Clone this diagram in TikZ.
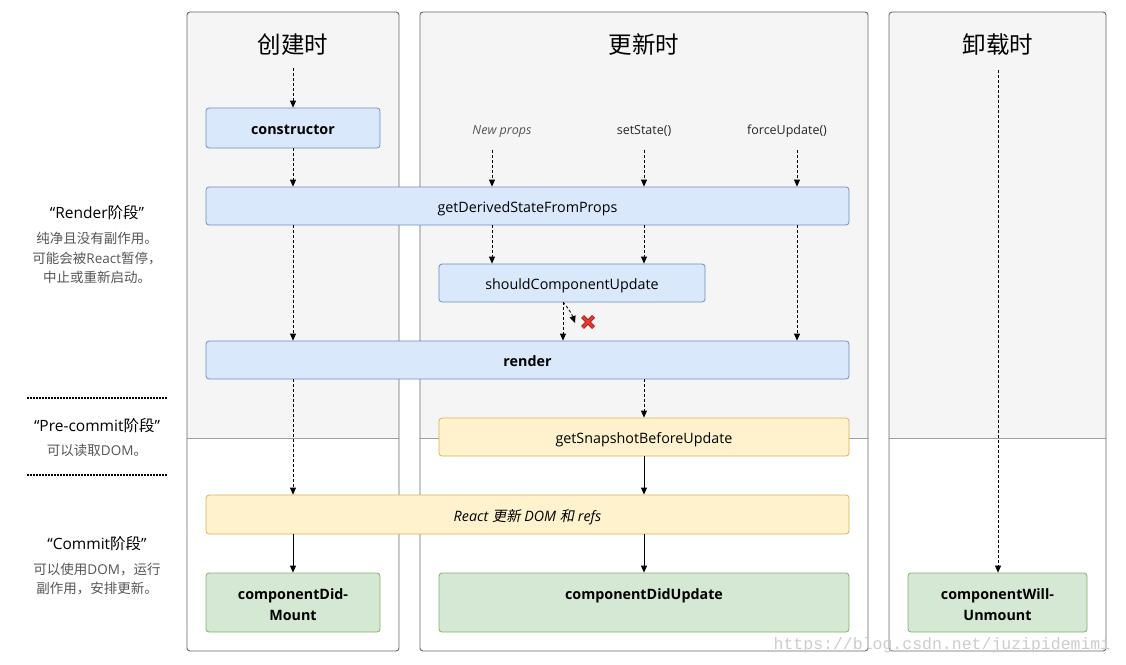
\documentclass[tikz,border=0pt]{standalone}
\usepackage{fontspec}
\setmainfont{Open Sans}
\newfontfamily\cjk{Noto Sans CJK SC}
\newfontfamily\cjkit[FakeSlant=0.2]{Noto Sans CJK SC}
\newfontfamily\wmfont{Liberation Mono}
\usetikzlibrary{arrows.meta}
\newcommand\twolines[2]{\raisebox{-6.5pt}[0pt][0pt]{\begin{tabular}{@{}c@{}}#1\\#2\end{tabular}}}
\definecolor{panelgray}{HTML}{F5F5F5}
\definecolor{panelborder}{HTML}{666666}
\definecolor{divider}{HTML}{A0A0A0}
\definecolor{bluefill}{HTML}{DAE8FC}
\definecolor{bluedraw}{HTML}{6C8EBF}
\definecolor{yelfill}{HTML}{FFF2CC}
\definecolor{yeldraw}{HTML}{D6B656}
\definecolor{grnfill}{HTML}{D5E8D4}
\definecolor{grndraw}{HTML}{82B366}
\definecolor{subgray}{HTML}{555555}
\definecolor{xred}{HTML}{E8392B}
\definecolor{xdark}{HTML}{9E1B10}
\tikzset{
  box/.style={draw, rounded corners=3pt, line width=0.8pt, inner sep=0pt, align=center,
    font=\fontsize{14.3}{21}\selectfont, text=black},
  oneline/.style={text height=14pt, text depth=1pt},
  bluebox/.style={box, oneline, fill=bluefill, draw=bluedraw},
  yelbox/.style={box, oneline, fill=yelfill, draw=yeldraw},
  grnbox/.style={box, fill=grnfill, draw=grndraw, font=\bfseries\fontsize{14.3}{21}\selectfont},
  boldtext/.style={font=\bfseries\fontsize{14.3}{21}\selectfont},
  darr/.style={-{Triangle[length=7pt,width=6pt]}, line width=0.8pt, dash pattern=on 3pt off 2pt},
  sarr/.style={-{Triangle[length=7pt,width=6pt]}, line width=0.9pt},
  head/.style={font=\cjk\fontsize{23.5}{26}\selectfont, text=black},
  trig/.style={font=\fontsize{12.5}{15}\selectfont, text=black!85, text height=10pt, text depth=3pt, inner sep=0pt},
  phase/.style={font=\fontsize{15.5}{18}\selectfont, text=black, inner sep=0pt},
  phasesub/.style={font=\fontsize{13.5}{19.7}\selectfont, text=subgray, inner sep=0pt, align=center},
  sep/.style={line width=1.8pt, dash pattern=on 1.8pt off 1.2pt},
  panelline/.style={draw=panelborder, line width=0.9pt, rounded corners=3pt}
}
\begin{document}
\begin{tikzpicture}[x=1pt,y=-1pt]
\useasboundingbox (0,0) rectangle (1126,664);
% panels
\foreach \a/\b in {187/399, 420/868, 889/1106}{
  \begin{scope}
    \clip[rounded corners=3pt] (\a,12) rectangle (\b,651);
    \fill[white] (\a,12) rectangle (\b,651);
    \fill[panelgray] (\a,12) rectangle (\b,438);
  \end{scope}
  \draw[divider, line width=0.9pt] (\a,438) -- (\b,438);
  \draw[panelline] (\a,12) rectangle (\b,651);
}
% headers
\node[head] (h1) at (293,45) {创建时};
\node[head] (h2) at (644,45) {更新时};
\node[head] (h3) at (998,45) {卸载时};
\coordinate (s1) at (293,68);
\coordinate (s3) at (998,70);
% triggers
\node[trig, font=\itshape\fontsize{12.5}{15}\selectfont, text=subgray] (np) at (502,130.5) {New props};
\node[trig] (ss) at (644,130.5) {setState()};
\node[trig] (fu) at (787,130.5) {forceUpdate()};
\coordinate (npb) at (492,150);
\coordinate (ssb) at (644,150);
\coordinate (fub) at (797,150);
% boxes
\node[bluebox, boldtext, minimum width=174pt, minimum height=40pt] (ctor) at (293,128) {constructor};
\node[bluebox, minimum width=643pt, minimum height=38pt] (gdsfp) at (527.5,206) {getDerivedStateFromProps};
\node[bluebox, minimum width=266pt, minimum height=38pt] (scu) at (572,283) {shouldComponentUpdate};
\node[bluebox, boldtext, minimum width=643pt, minimum height=38pt] (render) at (527.5,360) {render};
\node[yelbox, minimum width=410pt, minimum height=38pt] (gsbu) at (644,437) {getSnapshotBeforeUpdate};
\node[yelbox, minimum width=643pt, minimum height=39pt, font=\itshape\fontsize{14.3}{21}\selectfont] (rud) at (527.5,514.5) {React {\cjkit 更新} DOM {\cjkit 和} refs};
\node[grnbox, minimum width=174pt, minimum height=59pt] (cdm) at (293,602.5) {\twolines{componentDid-}{Mount}};
\node[grnbox, minimum width=410pt, minimum height=59pt] (cdu) at (644,602.5) {\twolines{componentDidUpdate}{~}};
\node[grnbox, minimum width=179pt, minimum height=59pt] (cwu) at (997.5,602.5) {\twolines{componentWill-}{Unmount}};
% column 1 arrows
\draw[darr] (s1) -- (ctor.north);
\draw[darr] (ctor.south) -- (ctor.south |- gdsfp.north);
\draw[darr] (gdsfp.south -| ctor.south) -- (render.north -| ctor.south);
\draw[darr] (render.south -| ctor.south) -- (rud.north -| ctor.south);
\draw[sarr] (rud.south -| ctor.south) -- (cdm.north);
% column 2 arrows
\draw[darr] (npb) -- (npb |- gdsfp.north);
\draw[darr] (ssb) -- (ssb |- gdsfp.north);
\draw[darr] (fub) -- (fub |- gdsfp.north);
\draw[darr] (gdsfp.south -| npb) -- (scu.north -| npb);
\draw[darr] (gdsfp.south -| ssb) -- (scu.north -| ssb);
\draw[darr] (gdsfp.south -| fub) -- (render.north -| fub);
\coordinate (scuo) at (563,302);
\coordinate (xend) at (575,323);
\draw[darr] (scuo) -- (scuo |- render.north);
\draw[darr] (scuo) to[bend left=10] (xend);
\draw[darr] (render.south -| ssb) -- (gsbu.north -| ssb);
\draw[sarr] (gsbu.south -| ssb) -- (rud.north -| ssb);
\draw[sarr] (rud.south -| ssb) -- (cdu.north -| ssb);
% red cross
\draw[xdark, line width=4pt] (582.5,316.5) -- (593.5,327.5) (593.5,316.5) -- (582.5,327.5);
\draw[xred, line width=2.4pt] (582.5,316.5) -- (593.5,327.5) (593.5,316.5) -- (582.5,327.5);
% column 3 arrow
\draw[darr] (s3) -- (s3 |- cwu.north);
% left labels
\node[phase] (p1) at (97,213) {“Render{\cjk 阶段}”};
\node[phasesub, anchor=north] (p1s) at (97,232) {{\cjk 纯净且没有副作用。}\\{\cjk 可能会被}React{\cjk 暂停，}\\{\cjk 中止或重新启动。}};
\coordinate (d1a) at (27,398);
\coordinate (d1b) at (167,398);
\draw[sep] (d1a) -- (d1b);
\node[phase] (p2) at (97,426) {“Pre-commit{\cjk 阶段}”};
\node[phasesub, anchor=north] (p2s) at (97,444) {{\cjk 可以读取}DOM{\cjk 。}};
\coordinate (d2a) at (27,475);
\coordinate (d2b) at (167,475);
\draw[sep] (d2a) -- (d2b);
\node[phase] (p3) at (97,544) {“Commit{\cjk 阶段}”};
\node[phasesub, anchor=north] (p3s) at (97,562.5) {{\cjk 可以使用}DOM{\cjk ，运行}\\{\cjk 副作用，安排更新。}};
% watermark
\node[font=\wmfont\fontsize{16.5}{18}\selectfont, text=black!20, inner sep=0pt] (wm) at (942,645) {https://blog.csdn.net/juzipidemimi};
\end{tikzpicture}
\end{document}
